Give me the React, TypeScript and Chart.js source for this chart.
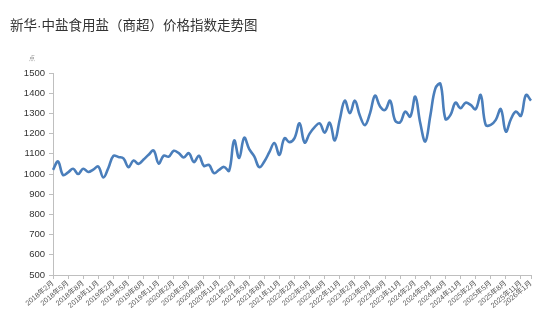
import React, { useEffect, useRef } from "react";
import { Chart, registerables } from "chart.js";

Chart.register(...registerables);

const TITLE = "新华·中盐食用盐（商超）价格指数走势图";
const UNIT = "点";

const START_YEAR = 2018;
const START_MONTH = 2;
const MONTH_COUNT = 96;

const categories: string[] = [];
for (let i = 0; i < MONTH_COUNT; i++) {
  const m = START_MONTH - 1 + i;
  categories.push(`${START_YEAR + Math.floor(m / 12)}年${(m % 12) + 1}月`);
}

const indexValues: number[] = [
  1020, 1062, 995, 1008, 1026, 1000, 1026, 1010, 1022, 1037,
  983, 1030, 1090, 1084, 1077, 1034, 1067, 1050, 1072, 1095,
  1116, 1052, 1091, 1086, 1115, 1103, 1082, 1103, 1059, 1090,
  1040, 1045, 1004, 1020, 1035, 1016, 1166, 1079, 1179, 1123,
  1087, 1034, 1062, 1108, 1153, 1095, 1177, 1158, 1178, 1251,
  1156, 1200, 1232, 1251, 1205, 1254, 1166, 1270, 1363, 1301,
  1363, 1288, 1242, 1300, 1388, 1334, 1317, 1363, 1264, 1256,
  1309, 1284, 1383, 1251, 1161, 1290, 1424, 1446, 1272, 1293,
  1353, 1326, 1353, 1342, 1321, 1391, 1243, 1243, 1268, 1321,
  1210, 1271, 1309, 1288, 1391, 1363,
];

const yMin = 500;
const yMax = 1500;
const yStep = 100;
const labelEvery = 3;

const FONT = '"Liberation Sans", "Noto Sans CJK SC", sans-serif';

export default function App() {
  const ref = useRef<HTMLCanvasElement | null>(null);

  useEffect(() => {
    if (!ref.current) return;
    const textPlugin = {
      id: "texts",
      afterDraw(chart: any) {
        const ctx = chart.ctx;
        ctx.save();
        ctx.fillStyle = "#333333";
        ctx.font = `13.5px "Liberation Sans", "Noto Sans CJK SC", sans-serif`;
        ctx.textBaseline = "middle";
        ctx.textAlign = "left";
        ctx.fillText(TITLE, 10, 26);
        ctx.fillStyle = "#9a9a9a";
        ctx.font = `6px "Noto Sans CJK SC", sans-serif`;
        ctx.textAlign = "center";
        ctx.fillText(UNIT, 32, 58);
        ctx.restore();
      },
    };
    const chart = new Chart(ref.current, {
      type: "line",
      data: {
        labels: categories,
        datasets: [
          {
            data: indexValues,
            borderColor: "#4a7ebb",
            borderWidth: 2.6,
            pointRadius: 0,
            tension: 0.4,
            fill: false,
          },
        ],
      },
      options: {
        responsive: false,
        animation: false,
        layout: { padding: { left: 10, right: 13, top: 73, bottom: 0 } },
        plugins: {
          legend: { display: false },
          title: { display: false },
          tooltip: { enabled: false },
        },
        scales: {
          x: {
            type: "category",
            offset: false,
            afterFit(scale: any) {
              scale.height = 51;
            },
            border: { display: true, color: "#bfbfbf", width: 1 },
            grid: {
              display: true,
              drawOnChartArea: false,
              drawTicks: true,
              tickLength: 4,
              color: "#bfbfbf",
            },
            ticks: {
              autoSkip: false,
              maxRotation: 40,
              minRotation: 40,
              padding: 0,
              color: "#595959",
              font: { family: FONT, size: 7.2 },
              callback(_v: any, i: number) {
                if (i % labelEvery === 0 || i === MONTH_COUNT - 1) return categories[i];
                return null;
              },
            },
          },
          y: {
            min: yMin,
            max: yMax,
            afterFit(scale: any) {
              scale.width = 43;
            },
            border: { display: true, color: "#bfbfbf", width: 1 },
            grid: {
              display: true,
              drawOnChartArea: false,
              drawTicks: true,
              tickLength: 4,
              color: "#bfbfbf",
            },
            ticks: {
              stepSize: yStep,
              padding: 4,
              color: "#333333",
              font: { family: FONT, size: 9.5 },
              callback(v: any) {
                return String(v);
              },
            },
          },
        },
      },
      plugins: [textPlugin],
    } as any);
    return () => chart.destroy();
  }, []);

  return (
    <div style={{ position: "absolute", left: 0, top: 0, width: 544, height: 326, background: "#fff" }}>
      <canvas ref={ref} width={544} height={326} style={{ display: "block" }} />
    </div>
  );
}
